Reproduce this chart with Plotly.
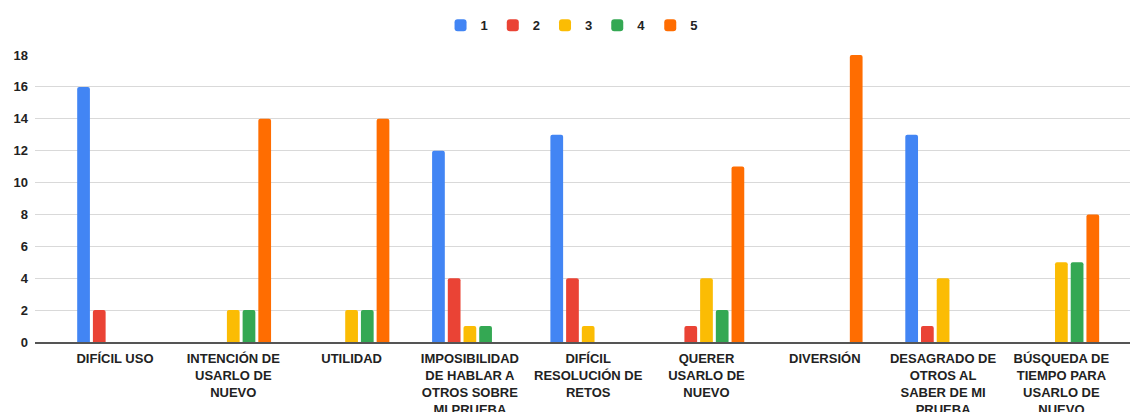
import plotly.graph_objects as go

categories = [
    "DIFÍCIL USO",
    "INTENCIÓN DE<br>USARLO DE<br>NUEVO",
    "UTILIDAD",
    "IMPOSIBILIDAD<br>DE HABLAR A<br>OTROS SOBRE<br>MI PRUEBA",
    "DIFÍCIL<br>RESOLUCIÓN DE<br>RETOS",
    "QUERER<br>USARLO DE<br>NUEVO",
    "DIVERSIÓN",
    "DESAGRADO DE<br>OTROS AL<br>SABER DE MI<br>PRUEBA",
    "BÚSQUEDA DE<br>TIEMPO PARA<br>USARLO DE<br>NUEVO",
]
series_names = ["1", "2", "3", "4", "5"]
s1 = [16, 0, 0, 12, 13, 0, 0, 13, 0]
s2 = [2, 0, 0, 4, 4, 1, 0, 1, 0]
s3 = [0, 2, 2, 1, 1, 4, 0, 4, 5]
s4 = [0, 2, 2, 1, 0, 2, 0, 0, 5]
s5 = [0, 14, 14, 0, 0, 11, 18, 0, 8]
colors = ["#4285F4", "#EA4335", "#FBBC04", "#34A853", "#FF6D01"]
yticks = [0, 2, 4, 6, 8, 10, 12, 14, 16, 18]

fig = go.Figure()
for name, vals, col in zip(series_names, [s1, s2, s3, s4, s5], colors):
    fig.add_trace(go.Bar(x=categories, y=vals, name=name, marker_color=col,
                         marker_line_width=0))

fig.update_layout(
    width=1135, height=412,
    margin=dict(l=35, r=5, t=55, b=70),
    paper_bgcolor="white", plot_bgcolor="white",
    barmode="group", bargap=0.336, bargroupgap=0.19,
    barcornerradius=2,
    font=dict(family="Liberation Sans, Arial, sans-serif", size=13, color="#222222"),
    legend=dict(orientation="h", x=0.49, xanchor="center", y=0.975, yanchor="top",
                yref="container", font=dict(size=13, weight="bold"),
                itemwidth=30, traceorder="normal"),
    showlegend=True,
)
fig.update_xaxes(
    type="category", range=[-0.676, 8.58], showgrid=False, automargin=False,
    showline=True, linecolor="#555555", linewidth=1.5,
    tickfont=dict(size=13, weight="bold", color="#222222"),
    ticks="", ticklen=0, ticklabelstandoff=4,
)
fig.update_yaxes(
    range=[0, 18], tickvals=yticks, showgrid=True, gridcolor="#d9d9d9",
    zeroline=False, showline=False, automargin=False,
    tickfont=dict(size=13, weight="bold", color="#222222"),
    ticks="", ticklabelstandoff=6,
)
fig.write_html("out.html")
